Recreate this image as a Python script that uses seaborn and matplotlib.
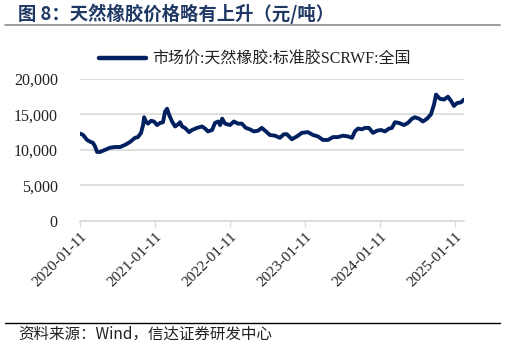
import matplotlib
matplotlib.use("Agg")
import matplotlib.pyplot as plt
import seaborn as sns
import pandas as pd
from matplotlib.lines import Line2D

dates = [
    "2020-01-11", "2020-01-26", "2020-02-14", "2020-02-29", "2020-03-14", "2020-03-24",
    "2020-04-03", "2020-04-17", "2020-05-12", "2020-06-05", "2020-06-29", "2020-07-24",
    "2020-08-17", "2020-09-10", "2020-10-05", "2020-10-19", "2020-11-03", "2020-11-13",
    "2020-11-18", "2020-11-27", "2020-12-07", "2020-12-22", "2021-01-05", "2021-01-20",
    "2021-02-04", "2021-02-18", "2021-02-28", "2021-03-10", "2021-03-19", "2021-04-03",
    "2021-04-18", "2021-05-02", "2021-05-12", "2021-05-22", "2021-06-05", "2021-06-25",
    "2021-07-09", "2021-08-03", "2021-08-27", "2021-09-11", "2021-09-25", "2021-10-15",
    "2021-10-29", "2021-11-13", "2021-11-23", "2021-12-03", "2021-12-17", "2022-01-10",
    "2022-01-29", "2022-02-18", "2022-03-09", "2022-03-28", "2022-04-17", "2022-05-06",
    "2022-05-26", "2022-06-14", "2022-07-04", "2022-07-23", "2022-08-17", "2022-09-10",
    "2022-09-29", "2022-10-14", "2022-11-07", "2022-12-02", "2022-12-26", "2023-01-24",
    "2023-02-18", "2023-03-14", "2023-04-07", "2023-05-02", "2023-05-26", "2023-06-19",
    "2023-07-14", "2023-08-07", "2023-08-27", "2023-09-10", "2023-09-25", "2023-10-14",
    "2023-10-29", "2023-11-17", "2023-12-07", "2023-12-26", "2024-01-15", "2024-02-03",
    "2024-02-23", "2024-03-08", "2024-03-23", "2024-04-11", "2024-05-06", "2024-05-25",
    "2024-06-14", "2024-06-28", "2024-07-18", "2024-08-06", "2024-08-26", "2024-09-14",
    "2024-09-29", "2024-10-09", "2024-10-28", "2024-11-17", "2024-12-06", "2024-12-21",
    "2025-01-04", "2025-01-19", "2025-02-07", "2025-02-22",
]
prices = [
    12300, 12100, 11400, 11150, 11000, 10500,
    9700, 9700, 10000, 10300, 10400, 10400,
    10700, 11100, 11700, 11800, 12400, 13500,
    14600, 14000, 13700, 14100, 14000, 13500,
    13800, 13900, 15400, 15800, 15000, 14000,
    13300, 13600, 13900, 13300, 13100, 12500,
    12800, 13100, 13300, 13000, 12600, 12800,
    13800, 14000, 13500, 14400, 13700, 13500,
    14000, 13700, 13700, 13100, 12900, 12600,
    12700, 13100, 12600, 12100, 12000, 11700,
    12200, 12200, 11500, 11900, 12400, 12500,
    12100, 11900, 11400, 11400, 11800, 11800,
    12000, 11900, 11700, 12600, 13000, 12900,
    13100, 13100, 12400, 12700, 12800, 12600,
    13000, 13100, 13900, 13800, 13500, 13800,
    14400, 14600, 14400, 14000, 14400, 15000,
    16400, 17800, 17200, 17100, 17500, 16900,
    16200, 16600, 16700, 17100,
]
tick_labels = ["2020-01-11", "2021-01-11", "2022-01-11", "2023-01-11", "2024-01-11", "2025-01-11"]
y_ticks = [0, 5000, 10000, 15000, 20000]
series_name = "市场价:天然橡胶:标准胶SCRWF:全国"
title = "图 8：天然橡胶价格略有上升（元/吨）"
source = "资料来源：Wind，信达证券研发中心"

sns.set_theme(style="white")
plt.rcParams['font.family'] = ['Liberation Serif', 'Noto Sans CJK SC', 'DejaVu Sans']

df = pd.DataFrame({"date": pd.to_datetime(dates), "price": prices})

fig = plt.figure(figsize=(5.05, 3.48), dpi=100)
ax = fig.add_axes([80/505, 1-220.7/348, (464-80)/505, (220.7-79)/348])

line_color = "#002060"
sns.lineplot(data=df, x="date", y="price", ax=ax, color=line_color, linewidth=2.8, legend=False)

ax.set_xlim(pd.Timestamp("2020-01-11"), pd.Timestamp("2025-02-22"))
ax.set_ylim(0, 20000)
ax.set_yticks(y_ticks)
ax.set_yticklabels([f"{v:,}" for v in y_ticks], fontsize=11.5, color="#222222")
ax.set_xticks(pd.to_datetime(tick_labels))
ax.set_xticklabels(tick_labels, rotation=45, ha="right", rotation_mode="anchor",
                   fontsize=11, color="#222222")
ax.set_xlabel("")
ax.set_ylabel("")
ax.grid(axis="y", color="#D9D9D9", linewidth=1.2)
ax.set_axisbelow(True)
for s in ["top", "right", "left"]:
    ax.spines[s].set_visible(False)
ax.spines["bottom"].set_color("#D9D9D9")
ax.spines["bottom"].set_linewidth(1.2)
ax.tick_params(axis="x", which="major", bottom=True, length=4, width=1, color="#D9D9D9", pad=3)
ax.tick_params(axis="y", left=False, pad=10)

handle = Line2D([0], [0], color=line_color, linewidth=3.2)
fig.legend([handle], [series_name], loc="center", bbox_to_anchor=(255/505, 1-60/348),
           frameon=False, handlelength=2.9, handletextpad=0.4,
           prop={'family': ['Liberation Serif', 'Noto Sans CJK SC'], 'size': 11.5},
           labelcolor="#222222")

fig.text(18/505, 1-14/348, title, fontsize=13.2, fontweight="bold", color="#1F3864",
         ha="left", va="center", family=['Noto Sans CJK SC', 'DejaVu Sans'])
fig.add_artist(Line2D([5/505, 500/505], [1-25/348, 1-25/348], color="#8C8C8C", linewidth=1.2))
fig.add_artist(Line2D([5/505, 500/505], [1-323/348, 1-323/348], color="#000000", linewidth=1.0))
fig.text(18/505, 1-334/348, source, fontsize=11.2, style="italic", color="#222222",
         ha="left", va="center", family=['Noto Sans CJK SC', 'DejaVu Sans'])

fig.savefig("out.png", dpi=100)
